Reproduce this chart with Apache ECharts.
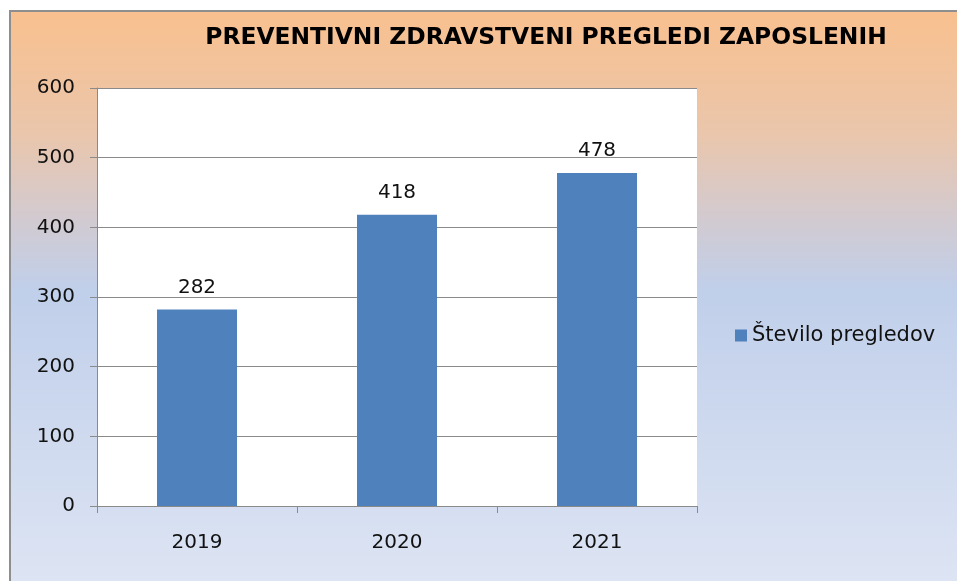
<!DOCTYPE html>
<html>
<head>
<meta charset="utf-8">
<script src="https://cdn.jsdelivr.net/npm/echarts@6/dist/echarts.min.js"></script>
<style>
html,body{margin:0;padding:0;background:#fff;overflow:hidden;}
#chart{width:957px;height:581px;}
</style>
</head>
<body>
<div id="chart"></div>
<script>
const titleText = 'PREVENTIVNI ZDRAVSTVENI PREGLEDI ZAPOSLENIH';
const categories = ['2019', '2020', '2021'];
const seriesName = 'Število pregledov';
const values = [282, 418, 478];
const yTicks = [0, 100, 200, 300, 400, 500, 600];

const FONT = 'DejaVu Sans';
const chart = echarts.init(document.getElementById('chart'), null, {renderer: 'canvas'});
chart.setOption({
  backgroundColor: '#ffffff',
  animation: false,
  graphic: [{
    type: 'rect',
    z: -100,
    silent: true,
    shape: {x: 10, y: 11, width: 980, height: 620},
    style: {
      fill: {
        type: 'linear', x: 0, y: 0, x2: 0, y2: 1,
        colorStops: [
          {offset: 0, color: '#F9C08E'},
          {offset: 0.2, color: '#EAC6AC'},
          {offset: 0.33, color: '#D3CACF'},
          {offset: 0.45, color: '#C0CFEA'},
          {offset: 1, color: '#E2E8F5'}
        ]
      },
      stroke: '#8E8E8E',
      lineWidth: 2
    }
  }],
  title: {
    text: titleText,
    left: 541,
    top: 21,
    textAlign: 'center',
    textStyle: {fontFamily: FONT, fontWeight: 'bold', fontSize: 23.4, color: '#000'}
  },
  legend: {
    data: [seriesName],
    left: 730,
    top: 320,
    itemWidth: 12,
    itemHeight: 12,
    icon: 'rect',
    textStyle: {fontFamily: FONT, fontSize: 21, color: '#111'}
  },
  grid: {
    left: 97, top: 88, width: 600, height: 418,
    show: true, backgroundColor: '#ffffff', borderWidth: 0,
    containLabel: false
  },
  xAxis: {
    type: 'category',
    data: categories,
    axisLine: {show: true, lineStyle: {color: '#8A8A8A', width: 1}},
    axisTick: {show: true, alignWithLabel: false, length: 7, lineStyle: {color: '#8A8A8A'}},
    axisLabel: {fontFamily: FONT, fontSize: 20, color: '#111', margin: 27},
    splitLine: {show: false}
  },
  yAxis: {
    type: 'value',
    min: yTicks[0],
    max: yTicks[yTicks.length - 1],
    interval: yTicks[1] - yTicks[0],
    axisLine: {show: true, lineStyle: {color: '#8A8A8A', width: 1}},
    axisTick: {show: true, length: 7, lineStyle: {color: '#8A8A8A'}},
    axisLabel: {fontFamily: FONT, fontSize: 20, color: '#111', margin: 22},
    splitLine: {show: true, lineStyle: {color: '#8A8A8A', width: 1}}
  },
  series: [{
    name: seriesName,
    type: 'bar',
    data: values,
    barWidth: '40%',
    itemStyle: {color: '#4F81BD'},
    label: {show: true, position: 'top', distance: 12, fontFamily: FONT, fontSize: 20, color: '#111'}
  }]
});
</script>
</body>
</html>
